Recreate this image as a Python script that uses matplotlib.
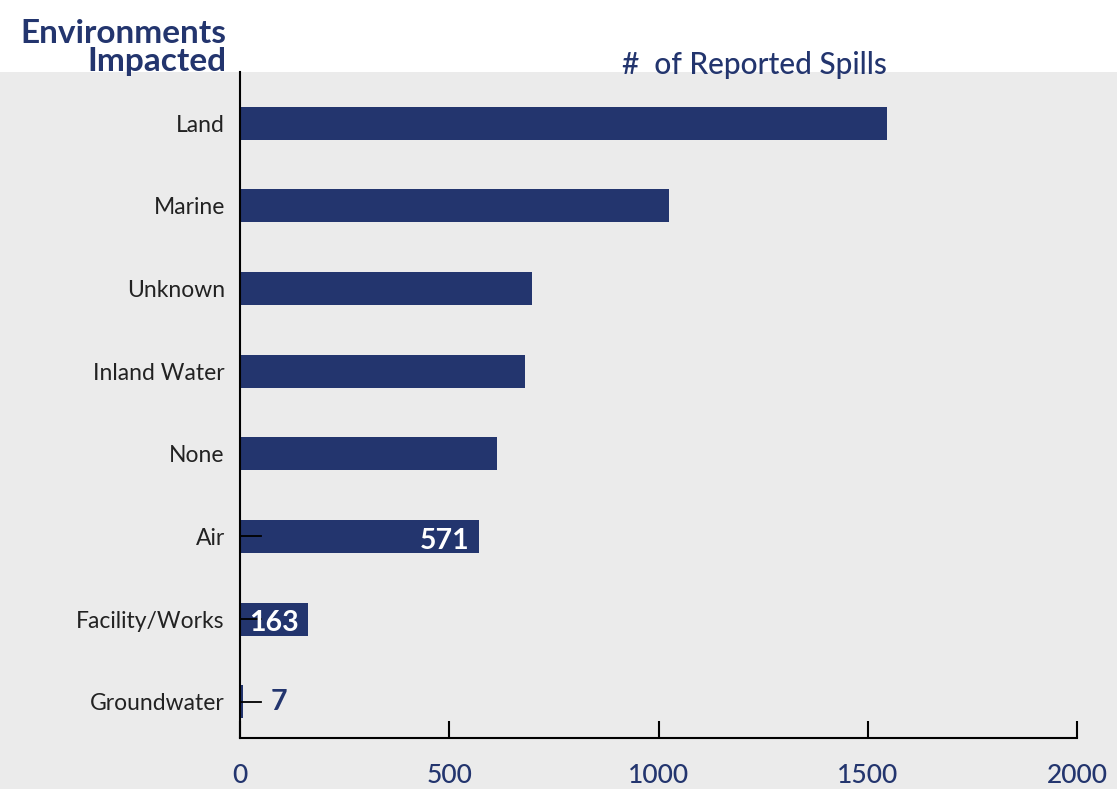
import matplotlib.pyplot as plt
from matplotlib.patches import Rectangle

categories = ["Land", "Marine", "Unknown", "Inland Water", "None", "Air",
              "Facility/Works", "Groundwater"]
spills = [1545, 1025, 698, 681, 614, 571, 163, 7]
labelled = ["Air", "Facility/Works", "Groundwater"]
xticks = [0, 500, 1000, 1500, 2000]

navy = "#23356E"
grey = "#EBEBEB"

plt.rcParams['font.family'] = ['Lato', 'DejaVu Sans']

fig = plt.figure(figsize=(11.17, 7.89), dpi=100)
fig.patch.set_facecolor("white")
# grey panel behind the chart, full width
fig.patches.append(Rectangle((0, 0), 1, 0.9087, transform=fig.transFigure,
                             facecolor=grey, edgecolor="none", zorder=-5))

ax = fig.add_axes([0.2149, 0.0646, 0.9642 - 0.2149, 0.9087 - 0.0646])
ax.set_zorder(2)
ax.set_facecolor(grey)

ypos = list(range(len(categories)))[::-1]
ax.barh(ypos, spills, height=0.4, color=navy, zorder=2)

ax.set_xlim(0, 2000)
ax.set_ylim(-0.44, 7.62)
ax.set_xticks(xticks)
ax.set_xticklabels([str(t) for t in xticks])
ax.set_yticks(ypos)
ax.set_yticklabels(categories)

for s in ["top", "right"]:
    ax.spines[s].set_visible(False)
for s in ["left", "bottom"]:
    ax.spines[s].set_linewidth(1.5)
    ax.spines[s].set_color("black")
    ax.spines[s].set_zorder(3)

ax.tick_params(axis="x", direction="in", length=12, width=1.5, pad=18,
               labelsize=19, labelcolor=navy)
ax.tick_params(axis="y", length=0, pad=11,
               labelsize=16.5, labelcolor="#222222")
for lbl in ax.get_xticklabels():
    lbl.set_fontweight("medium")

# value labels (with short leader lines) on the three smallest bars
for cat, y, v in zip(categories, ypos, spills):
    if cat not in labelled:
        continue
    ax.plot([0, 50], [y, y], color="black", lw=1.3, zorder=3)
    if v > 100:
        ax.text(v - 22, y - 0.05, str(v), color="white", fontsize=20.5,
                fontweight="bold", ha="right", va="center", zorder=4)
    else:
        ax.text(v + 65, y, str(v), color=navy, fontsize=20.5, fontweight="bold",
                ha="left", va="center", zorder=4)

fig.text(0.203, 0.976, "Environments\nImpacted", ha="right", va="top",
         ma="right", fontsize=24, fontweight="bold", color=navy, linespacing=0.95)
fig.text(0.557, 0.918, "#  of Reported Spills", ha="left", va="center",
         fontsize=21.5, color=navy, fontweight="medium")

fig.savefig("out.png", dpi=100, facecolor=fig.get_facecolor())
